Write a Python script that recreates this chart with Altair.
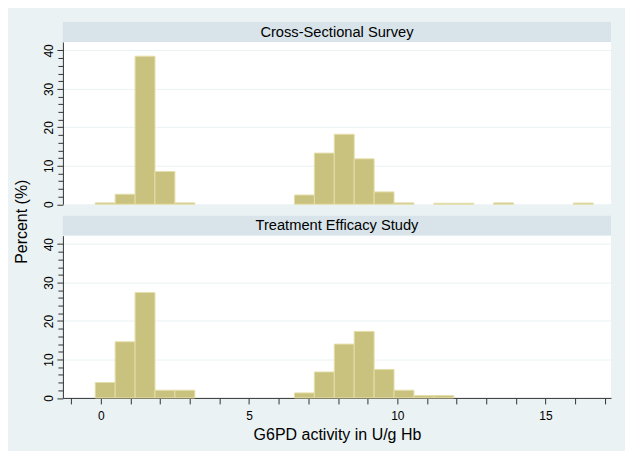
import altair as alt
import pandas as pd

# ---- data ----
panels = ["Cross-Sectional Survey", "Treatment Efficacy Study"]
bin_start = -0.19
bin_width = 0.672
cross_pct = [0.35, 2.6, 38.5, 8.5, 0.35, 0, 0, 0, 0, 0,
             2.4, 13.3, 18.2, 11.8, 3.2, 0.35, 0, 0.25, 0.25, 0,
             0.35, 0, 0, 0, 0.3]
treat_pct = [4.0, 14.6, 27.4, 2.0, 2.0, 0, 0, 0, 0, 0,
             1.3, 6.75, 14.0, 17.3, 7.4, 2.0, 0.6, 0.6, 0, 0,
             0, 0, 0, 0, 0]
x_ticks = list(range(-1, 18))
y_ticks = list(range(0, 42, 2))
x_title = "G6PD activity in U/g Hb"
y_title = "Percent (%)"

FONT = "Liberation Sans"
W = 549
H = 162.5
HH = 20
BG = "#EAF2F3"
HEAD = "#D8E4EA"
BAR = "#C9C17E"
BAR_EDGE = "#E4DEAA"
AX = "#333333"


def bars_df(vals):
    rows = []
    for i, v in enumerate(vals):
        if v > 0:
            rows.append({"lo": bin_start + i * bin_width,
                         "hi": bin_start + (i + 1) * bin_width,
                         "pct": v})
    return pd.DataFrame(rows)


xscale = alt.Scale(domain=[-1.28, 17.21], nice=False, zero=False)
yscale = alt.Scale(domain=[0, 42.2], nice=False)


def plot(vals, bottom):
    if bottom:
        xaxis = alt.Axis(values=x_ticks,
                         labelExpr="datum.value % 5 === 0 ? datum.label : ''",
                         title=x_title, tickSize=6, labelPadding=7,
                         titlePadding=5, grid=False)
    else:
        xaxis = None
    yaxis = alt.Axis(values=y_ticks,
                     labelExpr="datum.value % 10 === 0 ? datum.label : ''",
                     labelAngle=270, labelAlign="center", labelBaseline="bottom",
                     labelPadding=1, title=None,
                     tickSize={"condition": {"test": "datum.value % 10 === 0", "value": 6}, "value": 5},
                     grid=True, gridColor=BG, gridWidth=1,
                     gridOpacity={"condition": {"test": "datum.value % 10 === 0 && datum.value > 0", "value": 1}, "value": 0})
    return alt.Chart(bars_df(vals)).mark_rect(
        fill=BAR, stroke=BAR_EDGE, strokeWidth=1
    ).encode(
        x=alt.X("lo:Q", scale=xscale, axis=xaxis),
        x2="hi:Q",
        y=alt.Y("pct:Q", scale=yscale, axis=yaxis),
        y2=alt.datum(0),
    ).properties(width=W, height=H,
                 view=alt.ViewBackground(fill="white", stroke=None))


def header(text):
    df = pd.DataFrame({"label": [text]})
    rect = alt.Chart(df).mark_rect(color=HEAD).encode(
        x=alt.value(0), x2=alt.value(W), y=alt.value(0), y2=alt.value(HH))
    txt = alt.Chart(df).mark_text(font=FONT, fontSize=14.7, color="black",
                                  baseline="middle", align="center").encode(
        text="label:N", x=alt.value(W / 2), y=alt.value(HH / 2 + 0.5))
    return alt.layer(rect, txt).properties(width=W, height=HH)


TOTAL_H = 376.6
ytitle = alt.Chart(pd.DataFrame({"t": [y_title]})).mark_text(
    font=FONT, fontSize=16, color="black", angle=270,
    align="center", baseline="middle"
).encode(text="t:N", x=alt.value(10), y=alt.value(200)).properties(
    width=20, height=TOTAL_H, view=alt.ViewBackground(fill=None, stroke=None))

top = alt.vconcat(header(panels[0]), plot(cross_pct, False), spacing=0)
bot = alt.vconcat(header(panels[1]), plot(treat_pct, True), spacing=0)
panels_col = alt.vconcat(top, bot, spacing=8)

chart = alt.hconcat(ytitle, panels_col, spacing=11).properties(
    background=BG,
    padding={"left": 4, "top": 13.7, "right": 14, "bottom": 7},
).configure_view(
    stroke=None
).configure_axis(
    domainColor=AX, tickColor=AX, domainWidth=1, tickWidth=1,
    labelFont=FONT, labelFontSize=12, labelColor="black",
    titleFont=FONT, titleFontSize=16, titleFontWeight="normal", titleColor="black",
)

chart.save("out.html", embed_options={"renderer": "svg", "actions": False})
